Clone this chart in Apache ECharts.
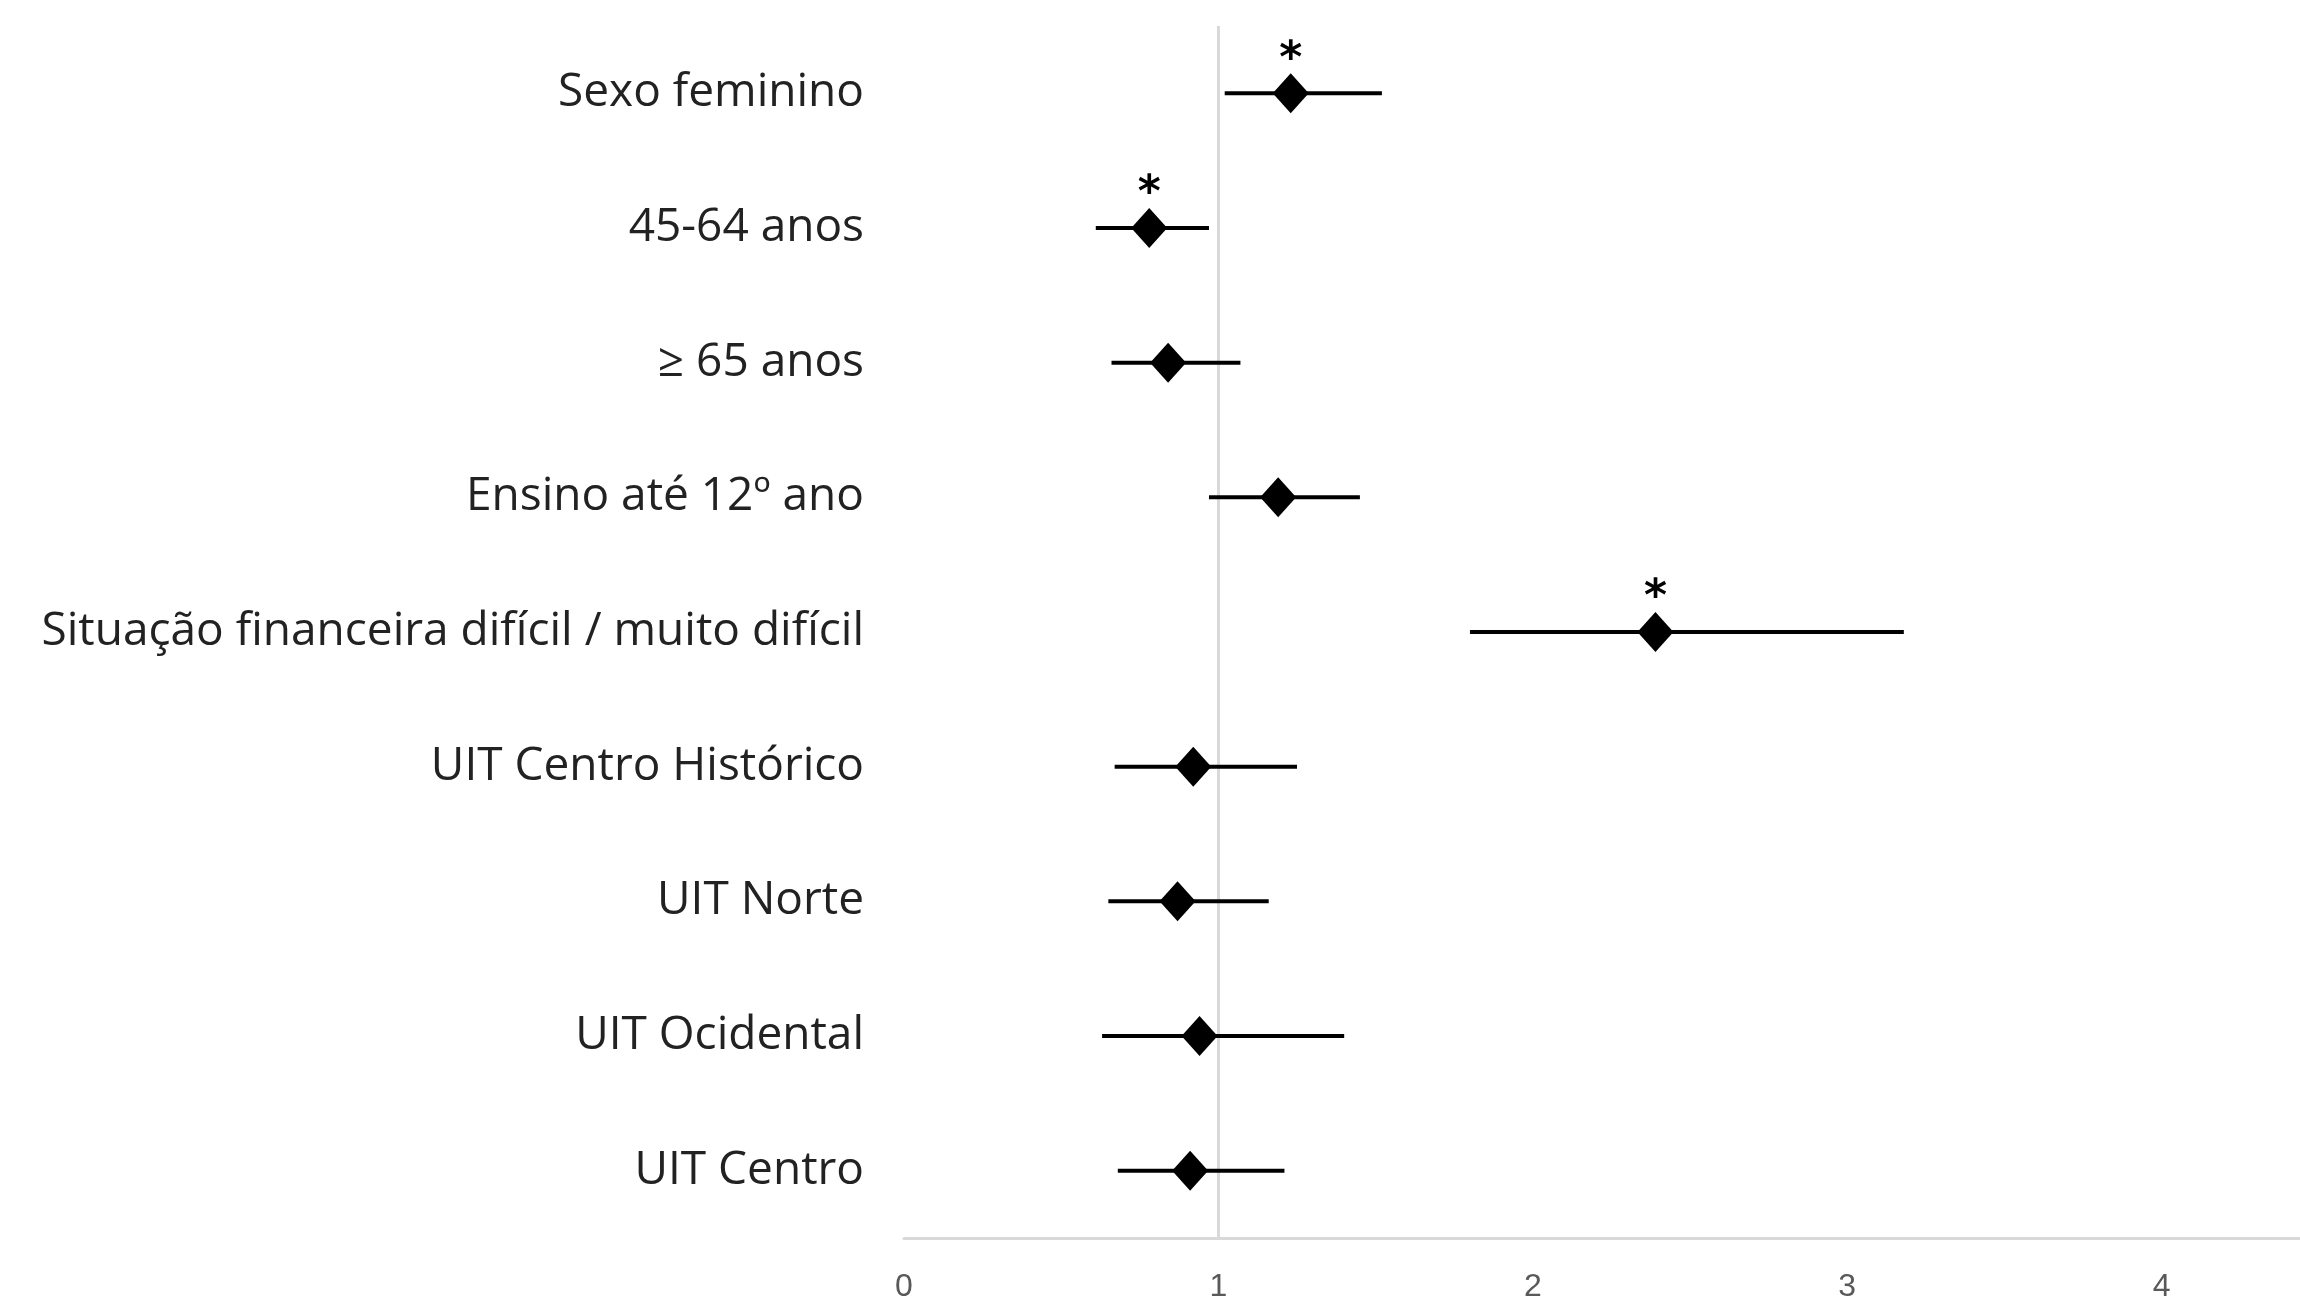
<!DOCTYPE html>
<html>
<head>
<meta charset="utf-8">
<script src="https://cdn.jsdelivr.net/npm/echarts@6/dist/echarts.min.js"></script>
<style>
html,body{margin:0;padding:0;background:#fff;}
#chart{width:2300px;height:1296px;}
</style>
</head>
<body>
<div id="chart"></div>
<script>
var categories = [
  "Sexo feminino",
  "45-64 anos",
  "\u2265 65 anos",
  "Ensino at\u00e9 12\u00ba ano",
  "Situa\u00e7\u00e3o financeira dif\u00edcil / muito dif\u00edcil",
  "UIT Centro Hist\u00f3rico",
  "UIT Norte",
  "UIT Ocidental",
  "UIT Centro"
];
var estimate = [1.23, 0.78, 0.84, 1.19, 2.39, 0.92, 0.87, 0.94, 0.91];
var lower    = [1.02, 0.61, 0.66, 0.97, 1.80, 0.67, 0.65, 0.63, 0.68];
var upper    = [1.52, 0.97, 1.07, 1.45, 3.18, 1.25, 1.16, 1.40, 1.21];
var significant = [true, true, false, false, true, false, false, false, false];
var xTicks = [0, 1, 2, 3, 4];

var chart = echarts.init(document.getElementById('chart'), null, {renderer: 'canvas'});

var ciData = categories.map(function (c, i) { return [i, lower[i], upper[i]]; });
var pointData = categories.map(function (c, i) {
  return {
    value: [estimate[i], i],
    label: {
      show: significant[i],
      formatter: '*',
      position: 'inside',
      offset: [0, -33],
      fontFamily: 'DejaVu Sans',
      fontWeight: 'bold',
      fontSize: 44,
      color: '#000'
    }
  };
});

chart.setOption({
  animation: false,
  backgroundColor: '#fff',
  grid: { left: 904, right: 0, top: 26, bottom: 58, containLabel: false, outerBoundsMode: 'none' },
  xAxis: {
    type: 'value',
    min: 0,
    max: 4.44,
    interval: 1,
    axisLine: { show: true, lineStyle: { color: '#d9d9d9', width: 3 } },
    axisTick: { show: false },
    splitLine: { show: false },
    axisLabel: {
      showMaxLabel: false,
      margin: 33,
      fontFamily: 'Liberation Sans Narrow, Liberation Sans',
      fontSize: 32,
      color: '#595959',
      formatter: function (v) { return xTicks.indexOf(v) >= 0 ? String(v) : ''; }
    }
  },
  yAxis: {
    type: 'category',
    data: categories,
    inverse: true,
    axisLine: { show: false },
    axisTick: { show: false },
    splitLine: { show: false },
    axisLabel: {
      margin: 40,
      fontFamily: 'Open Sans',
      fontSize: 46,
      color: '#222'
    }
  },
  series: [
    {
      type: 'custom',
      name: 'CI',
      silent: true,
      z: 2,
      data: ciData,
      encode: { x: [1, 2], y: 0 },
      renderItem: function (params, api) {
        var cat = api.value(0);
        var p1 = api.coord([api.value(1), cat]);
        var p2 = api.coord([api.value(2), cat]);
        return {
          type: 'line',
          shape: { x1: p1[0], y1: p1[1], x2: p2[0], y2: p2[1] },
          style: { stroke: '#000', lineWidth: 4 }
        };
      }
    },
    {
      type: 'scatter',
      name: 'OR',
      z: 3,
      symbol: 'diamond',
      symbolSize: [36, 40],
      itemStyle: { color: '#000', opacity: 1 },
      data: pointData,
      markLine: {
        silent: true,
        symbol: 'none',
        label: { show: false },
        lineStyle: { color: '#d9d9d9', width: 3, type: 'solid' },
        data: [{ xAxis: 1 }],
        z: 1
      }
    }
  ]
});
</script>
</body>
</html>
